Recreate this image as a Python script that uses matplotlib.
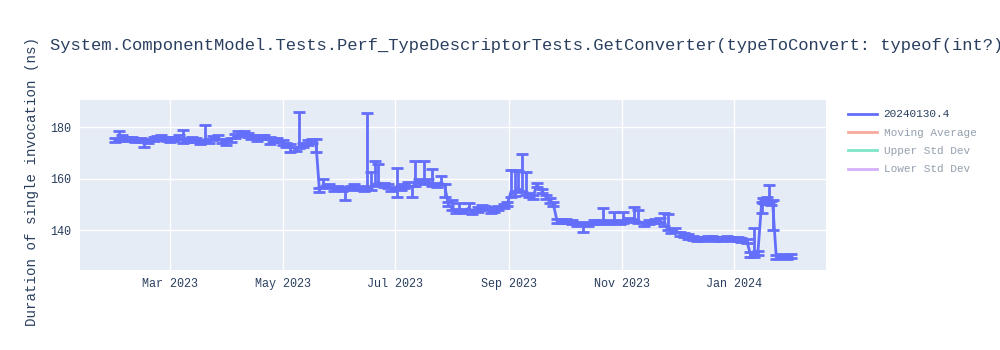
import pandas as pd
import matplotlib.pyplot as plt
import matplotlib.dates as mdates
from matplotlib.lines import Line2D

plt.rcParams['font.family'] = ['Liberation Mono', 'DejaVu Sans']

# readings per run (ns), with asymmetric error bars
dates = [
    '2023-01-30', '2023-02-01', '2023-02-03', '2023-02-06', '2023-02-08', '2023-02-10', '2023-02-13',
    '2023-02-15', '2023-02-17', '2023-02-20', '2023-02-22', '2023-02-24', '2023-02-27', '2023-03-01',
    '2023-03-03', '2023-03-06', '2023-03-08', '2023-03-10', '2023-03-13', '2023-03-15', '2023-03-17',
    '2023-03-20', '2023-03-22', '2023-03-24', '2023-03-27', '2023-03-29', '2023-03-31', '2023-04-03',
    '2023-04-05', '2023-04-07', '2023-04-10', '2023-04-12', '2023-04-14', '2023-04-17', '2023-04-19',
    '2023-04-21', '2023-04-24', '2023-04-26', '2023-04-28', '2023-05-01', '2023-05-03', '2023-05-05',
    '2023-05-08', '2023-05-10', '2023-05-12', '2023-05-15', '2023-05-17', '2023-05-19',
    '2023-05-21', '2023-05-23', '2023-05-26', '2023-05-29', '2023-05-31', '2023-06-02', '2023-06-04',
    '2023-06-07', '2023-06-09', '2023-06-12', '2023-06-14', '2023-06-16', '2023-06-18', '2023-06-20',
    '2023-06-22', '2023-06-25', '2023-06-27', '2023-06-29', '2023-07-02', '2023-07-04', '2023-07-06',
    '2023-07-08', '2023-07-10', '2023-07-12', '2023-07-14', '2023-07-17', '2023-07-19', '2023-07-21',
    '2023-07-24', '2023-07-26', '2023-07-28', '2023-07-30',
    '2023-08-01', '2023-08-03', '2023-08-05', '2023-08-08', '2023-08-10', '2023-08-12', '2023-08-15',
    '2023-08-17', '2023-08-19', '2023-08-22', '2023-08-24', '2023-08-26', '2023-08-29', '2023-08-31',
    '2023-09-02', '2023-09-04', '2023-09-06', '2023-09-08', '2023-09-10', '2023-09-12', '2023-09-14',
    '2023-09-16', '2023-09-19', '2023-09-21', '2023-09-23', '2023-09-25', '2023-09-27',
    '2023-09-29', '2023-10-02', '2023-10-05', '2023-10-08', '2023-10-11', '2023-10-14', '2023-10-17',
    '2023-10-20', '2023-10-22', '2023-10-25', '2023-10-28', '2023-10-31', '2023-11-02', '2023-11-05',
    '2023-11-08', '2023-11-10', '2023-11-13', '2023-11-16', '2023-11-19', '2023-11-22', '2023-11-24',
    '2023-11-26', '2023-11-28', '2023-11-30', '2023-12-03',
    '2023-12-05', '2023-12-07', '2023-12-10', '2023-12-12', '2023-12-15', '2023-12-18', '2023-12-20',
    '2023-12-22', '2023-12-25', '2023-12-28', '2023-12-31', '2024-01-03', '2024-01-05', '2024-01-08',
    '2024-01-10', '2024-01-12', '2024-01-14', '2024-01-16', '2024-01-17', '2024-01-18', '2024-01-19',
    '2024-01-20', '2024-01-21', '2024-01-22', '2024-01-24', '2024-01-27', '2024-01-30', '2024-02-01',
]
values = [
    175.0, 175.5, 176.0, 175.5, 175.2, 175.0, 174.8,
    174.2, 174.5, 175.5, 175.8, 176.0, 175.5, 175.0,
    175.5, 176.0, 174.5, 174.8, 175.5, 175.0, 174.2,
    175.0, 174.5, 175.8, 176.0, 174.5, 174.0, 175.0,
    176.5, 177.5, 177.8, 177.0, 176.0, 175.5, 176.0,
    176.2, 175.5, 174.8, 175.0, 174.0, 173.0, 172.5,
    171.5, 172.5, 173.0, 174.0, 174.5, 174.5,
    155.5, 157.5, 157.0, 156.0, 156.5, 156.0, 155.5,
    156.5, 157.0, 156.5, 156.0, 157.0, 156.5, 158.0,
    158.5, 157.5, 157.0, 156.0, 155.5, 156.5, 157.0,
    158.0, 156.5, 158.0, 159.0, 158.5, 159.0, 158.0,
    157.5, 158.5, 157.0, 150.0,
    148.5, 147.5, 148.0, 147.5, 148.5, 147.0, 148.0,
    149.0, 148.5, 147.5, 148.0, 148.5, 149.5, 150.0,
    155.0, 154.0, 156.0, 155.5, 154.5, 153.5, 153.0,
    157.5, 155.0, 153.0, 151.5, 150.0, 143.5,
    143.5, 143.5, 143.0, 142.5, 141.5, 142.5, 143.0,
    143.0, 143.5, 143.0, 143.5, 143.0, 143.5, 144.0,
    144.5, 143.5, 142.5, 143.0, 143.5, 143.5, 142.5,
    141.0, 139.5, 140.0, 138.5,
    138.0, 137.5, 137.0, 136.5, 136.5, 137.0, 137.0,
    136.5, 136.5, 136.8, 136.5, 136.5, 136.0, 135.8,
    130.5, 130.5, 131.0, 150.0, 151.5, 151.0, 152.0,
    151.0, 150.5, 151.0, 129.5, 130.0, 129.5, 130.0,
]
err_plus = [
    0.8, 2.8, 0.8, 0.8, 0.8, 0.8, 0.8,
    0.8, 0.8, 0.8, 0.8, 0.8, 0.8, 0.8,
    0.8, 0.8, 4.3, 0.8, 0.8, 0.8, 0.8,
    5.8, 0.8, 0.8, 0.8, 0.8, 0.8, 0.8,
    0.8, 0.8, 0.8, 0.8, 0.8, 0.8, 0.8,
    0.8, 0.8, 0.8, 0.8, 0.8, 0.8, 0.8,
    0.8, 13.5, 0.8, 0.8, 0.8, 0.8,
    0.8, 2.5, 0.8, 0.8, 0.8, 0.8, 0.8,
    0.8, 0.8, 0.8, 0.8, 28.3, 6.0, 8.8,
    7.0, 0.8, 0.8, 0.8, 8.5, 0.8, 0.8,
    0.8, 0.8, 8.8, 0.8, 8.3, 0.8, 5.7,
    0.8, 2.5, 0.8, 0.8,
    3.0, 0.8, 2.5, 0.8, 2.0, 0.8, 0.8,
    0.8, 0.8, 0.8, 0.8, 0.8, 0.8, 0.8,
    8.3, 9.3, 7.0, 14.0, 8.0, 0.8, 0.8,
    0.8, 0.8, 0.8, 0.8, 0.8, 0.8,
    0.8, 0.8, 0.8, 0.8, 0.8, 0.8, 0.8,
    0.8, 5.0, 0.8, 3.5, 0.8, 3.5, 0.8,
    4.5, 4.3, 0.8, 0.8, 0.8, 1.0, 4.0,
    5.3, 0.8, 0.8, 0.8,
    0.8, 0.8, 0.8, 0.8, 0.8, 0.8, 0.8,
    0.8, 0.8, 0.8, 0.8, 0.8, 0.8, 0.8,
    0.8, 10.3, 0.8, 0.8, 0.8, 0.8, 0.8,
    6.5, 0.8, 0.8, 0.8, 0.8, 0.8, 0.8,
]
err_minus = [
    0.8, 0.8, 0.8, 0.8, 0.8, 0.8, 0.8,
    2.0, 0.8, 0.8, 0.8, 0.8, 0.8, 0.8,
    0.8, 0.8, 0.8, 0.8, 0.8, 0.8, 0.8,
    0.8, 0.8, 0.8, 0.8, 0.8, 0.8, 0.8,
    0.8, 0.8, 0.8, 0.8, 0.8, 0.8, 0.8,
    0.8, 2.0, 0.8, 0.8, 0.8, 0.8, 2.0,
    0.8, 0.8, 0.8, 0.8, 0.8, 4.0,
    0.8, 0.8, 0.8, 0.8, 0.8, 0.8, 3.8,
    0.8, 0.8, 0.8, 0.8, 0.8, 0.8, 0.8,
    0.8, 0.8, 0.8, 0.8, 2.5, 0.8, 0.8,
    0.8, 3.5, 0.8, 0.8, 0.8, 0.8, 0.8,
    0.8, 0.8, 4.0, 0.8,
    0.8, 0.8, 0.8, 0.8, 0.8, 0.8, 0.8,
    0.8, 0.8, 0.8, 0.8, 0.8, 0.8, 0.8,
    2.0, 0.8, 0.8, 0.8, 0.8, 0.8, 0.8,
    0.8, 0.8, 0.8, 0.8, 0.8, 0.8,
    0.8, 0.8, 0.8, 0.8, 2.2, 0.8, 0.8,
    0.8, 0.8, 0.8, 0.8, 0.8, 0.8, 0.8,
    0.8, 0.8, 0.8, 0.8, 0.8, 0.8, 0.8,
    0.8, 0.8, 0.8, 0.8,
    0.8, 0.8, 0.8, 0.8, 0.8, 0.8, 0.8,
    0.8, 0.8, 0.8, 0.8, 0.8, 0.8, 0.8,
    0.8, 0.8, 0.8, 3.5, 0.8, 0.8, 0.8,
    0.8, 0.8, 11.0, 0.8, 0.8, 0.8, 0.8,
]

title = 'System.ComponentModel.Tests.Perf_TypeDescriptorTests.GetConverter(typeToConvert: typeof(int?))'
legend_labels = ['20240130.4', 'Moving Average', 'Upper Std Dev', 'Lower Std Dev']
legend_colors = ['#636efa', '#f7aa9d', '#7fe5ca', '#d5b1fc']
legend_text_colors = ['#2a3f5f', '#94a0af', '#94a0af', '#94a0af']

df = pd.DataFrame({'date': pd.to_datetime(dates), 'value': values,
                   'plus': err_plus, 'minus': err_minus})

fig = plt.figure(figsize=(10, 3.5), dpi=100)
ax = fig.add_axes([0.08, 0.2286, 0.746, 0.4857])
ax.set_facecolor('#e5ecf6')

ax.errorbar(df['date'], df['value'], yerr=[df['minus'], df['plus']],
            color='#636efa', linewidth=2, elinewidth=2, capsize=4, capthick=2)

ax.set_xlim(pd.Timestamp('2023-01-11'), pd.Timestamp('2024-02-20'))
ax.set_ylim(124.5, 190.5)
ax.set_yticks([140, 160, 180])
ax.xaxis.set_major_locator(mdates.MonthLocator(bymonth=[1, 3, 5, 7, 9, 11]))
ax.xaxis.set_major_formatter(mdates.DateFormatter('%b %Y'))
ax.grid(True, color='white', linewidth=1)
ax.set_axisbelow(True)
for s in ax.spines.values():
    s.set_visible(False)
ax.tick_params(length=0, labelsize=8.5, labelcolor='#2a3f5f', pad=6)

fig.text(0.05, 0.871, title, fontsize=12.3, color='#2a3f5f', va='center')
fig.text(0.032, 0.48, 'Duration of single invocation (ns)', rotation=90,
         fontsize=10.2, color='#2a3f5f', va='center', ha='center')

handles = [Line2D([], [], color=c, linewidth=2) for c in legend_colors]
leg = fig.legend(handles, legend_labels, loc='upper left', bbox_to_anchor=(0.838, 0.716),
                 frameon=False, fontsize=8, handlelength=2.6, handletextpad=0.6,
                 labelspacing=0.75)
for t, c in zip(leg.get_texts(), legend_text_colors):
    t.set_color(c)

fig.savefig('out.png', dpi=100)
